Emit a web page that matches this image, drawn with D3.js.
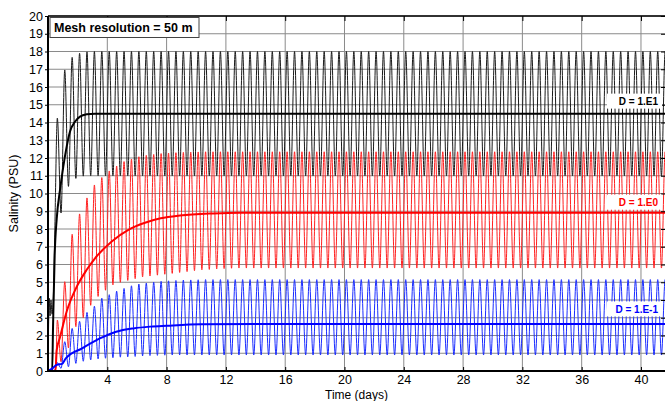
<!DOCTYPE html>
<html>
<head>
<meta charset="utf-8">
<script src="https://cdnjs.cloudflare.com/ajax/libs/d3/7.8.5/d3.min.js"></script>
<style>
body { margin: 0; background: #fff; }
svg { display: block; font-family: Arial, "Liberation Sans", sans-serif; }
</style>
</head>
<body>
<div class="chart"></div>
<script>

// tick labels
var xTicks = [4, 8, 12, 16, 20, 24, 28, 32, 36, 40];
var yTicks = [0, 1, 2, 3, 4, 5, 6, 7, 8, 9, 10, 11, 12, 13, 14, 15, 16, 17, 18, 19, 20];

// series labels
var seriesNames = ["D = 1.E1", "D = 1.E0", "D = 1.E-1"];

// tide: first high water and spacing (days)
var firstHigh = 0.63,
    tidePeriod = 0.5;

// start of each run before the first high water [day, PSU]
var blackStart = [[0, 0], [0.04, 2.6], [0.08, 4.1], [0.14, 3.1], [0.2, 4.0], [0.27, 3.2], [0.36, 4.2], [0.45, 7.5]];
var redStart = [[0, 0], [0.5, 0], [0.55, 0.8]];
var blueStart = [[0, 0], [0.45, 0.05]];

// high / low water salinity, one value per tide
var blackHigh = [14.24, 16.96, 17.67, 17.9, 17.98,
  18, 18, 18, 18, 18, 18, 18, 18, 18, 18,
  18, 18, 18, 18, 18, 18, 18, 18, 18, 18,
  18, 18, 18, 18, 18, 18, 18, 18, 18, 18,
  18, 18, 18, 18, 18, 18, 18, 18, 18, 18,
  18, 18, 18, 18, 18, 18, 18, 18, 18, 18,
  18, 18, 18, 18, 18, 18, 18, 18, 18, 18,
  18, 18, 18, 18, 18, 18, 18, 18, 18, 18,
  18, 18, 18, 18, 18, 18, 18, 18, 18, 18];
var blackLow = [8.9, 10.4, 10.85, 10.98,
  11, 11, 11, 11, 11, 11, 11, 11, 11, 11,
  11, 11, 11, 11, 11, 11, 11, 11, 11, 11,
  11, 11, 11, 11, 11, 11, 11, 11, 11, 11,
  11, 11, 11, 11, 11, 11, 11, 11, 11, 11,
  11, 11, 11, 11, 11, 11, 11, 11, 11, 11,
  11, 11, 11, 11, 11, 11, 11, 11, 11, 11,
  11, 11, 11, 11, 11, 11, 11, 11, 11, 11,
  11, 11, 11, 11, 11, 11, 11, 11, 11, 11];

var redHigh = [2.87, 5.03, 7.7, 8.85, 9.75, 10.48, 10.9, 11.27, 11.55, 11.8,
  11.94, 12.07, 12.15, 12.2, 12.25, 12.28, 12.3, 12.32, 12.33, 12.34,
  12.35, 12.35, 12.35, 12.35, 12.35, 12.35, 12.35, 12.35, 12.35, 12.35,
  12.35, 12.35, 12.35, 12.35, 12.35, 12.35, 12.35, 12.35, 12.35, 12.35,
  12.35, 12.35, 12.35, 12.35, 12.35, 12.35, 12.35, 12.35, 12.35, 12.35,
  12.35, 12.35, 12.35, 12.35, 12.35, 12.35, 12.35, 12.35, 12.35, 12.35,
  12.35, 12.35, 12.35, 12.35, 12.35, 12.35, 12.35, 12.35, 12.35, 12.35,
  12.35, 12.35, 12.35, 12.35, 12.35, 12.35, 12.35, 12.35, 12.35, 12.35,
  12.35, 12.35, 12.35, 12.35, 12.35];
var redLow = [0.52, 1.3, 2.5, 3.0, 3.7, 4.2, 4.55, 4.85, 5.0, 5.1,
  5.2, 5.3, 5.35, 5.4, 5.45, 5.5, 5.55, 5.6, 5.65, 5.7,
  5.72, 5.75, 5.77, 5.79, 5.8, 5.8, 5.8, 5.8, 5.8, 5.8,
  5.8, 5.8, 5.8, 5.8, 5.8, 5.8, 5.8, 5.8, 5.8, 5.8,
  5.8, 5.8, 5.8, 5.8, 5.8, 5.8, 5.8, 5.8, 5.8, 5.8,
  5.8, 5.8, 5.8, 5.8, 5.8, 5.8, 5.8, 5.8, 5.8, 5.8,
  5.8, 5.8, 5.8, 5.8, 5.8, 5.8, 5.8, 5.8, 5.8, 5.8,
  5.8, 5.8, 5.8, 5.8, 5.8, 5.8, 5.8, 5.8, 5.8, 5.8,
  5.8, 5.8, 5.8, 5.8, 5.8];

var blueHigh = [0.47, 1.65, 2.4, 2.8, 3.3, 3.65, 4.1, 4.3, 4.5, 4.65,
  4.8, 4.9, 4.95, 5.0, 5.05, 5.08, 5.1, 5.12, 5.13, 5.14,
  5.15, 5.15, 5.15, 5.15, 5.15, 5.15, 5.15, 5.15, 5.15, 5.15,
  5.15, 5.15, 5.15, 5.15, 5.15, 5.15, 5.15, 5.15, 5.15, 5.15,
  5.15, 5.15, 5.15, 5.15, 5.15, 5.15, 5.15, 5.15, 5.15, 5.15,
  5.15, 5.15, 5.15, 5.15, 5.15, 5.15, 5.15, 5.15, 5.15, 5.15,
  5.15, 5.15, 5.15, 5.15, 5.15, 5.15, 5.15, 5.15, 5.15, 5.15,
  5.15, 5.15, 5.15, 5.15, 5.15, 5.15, 5.15, 5.15, 5.15, 5.15,
  5.15, 5.15, 5.15, 5.15, 5.15];
var blueLow = [0.15, 0.24, 0.43, 0.55, 0.62, 0.68, 0.72, 0.75, 0.78, 0.8,
  0.82, 0.85, 0.87, 0.88, 0.89, 0.9, 0.9, 0.9, 0.9, 0.9,
  0.9, 0.9, 0.9, 0.9, 0.9, 0.9, 0.9, 0.9, 0.9, 0.9,
  0.9, 0.9, 0.9, 0.9, 0.9, 0.9, 0.9, 0.9, 0.9, 0.9,
  0.9, 0.9, 0.9, 0.9, 0.9, 0.9, 0.9, 0.9, 0.9, 0.9,
  0.9, 0.9, 0.9, 0.9, 0.9, 0.9, 0.9, 0.9, 0.9, 0.9,
  0.9, 0.9, 0.9, 0.9, 0.9, 0.9, 0.9, 0.9, 0.9, 0.9,
  0.9, 0.9, 0.9, 0.9, 0.9, 0.9, 0.9, 0.9, 0.9, 0.9,
  0.9, 0.9, 0.9, 0.9, 0.9];

// tidally averaged salinity [day, PSU]
var blackMean = [[0, 0], [0.28, 0], [0.34, 2.5], [0.45, 6.5], [0.59, 8.6], [0.81, 10.2], [1.03, 11.5],
  [1.26, 12.64], [1.48, 13.48], [1.82, 14.04], [2.16, 14.33], [2.61, 14.46], [3.17, 14.5], [41.62, 14.5]];
var redMean = [[0, 0], [0.5, 0], [0.59, 1.18], [0.81, 1.9], [1.26, 3.35], [1.94, 4.75], [2.61, 5.7],
  [3.17, 6.35], [4.3, 7.3], [5.42, 7.95], [6.54, 8.35], [7.6, 8.6], [8.9, 8.76], [11.15, 8.88],
  [12.95, 8.92], [41.62, 8.92]];
var blueMean = [[0, 0], [0.3, 0.15], [0.6, 0.35], [0.95, 0.4], [1.2, 0.71], [2.3, 1.28], [3.5, 1.84],
  [4.6, 2.21], [5.75, 2.4], [6.9, 2.5], [8.0, 2.55], [10.3, 2.63], [14, 2.65], [41.62, 2.65]];

var margin = {top: 16, right: 0, bottom: 30, left: 48},
    width = 665 - margin.left - margin.right,
    height = 401 - margin.top - margin.bottom;

var svg = d3.select(".chart").append("svg")
    .attr("width", 665)
    .attr("height", 401)
  .append("g")
    .attr("transform", "translate(" + margin.left + "," + margin.top + ")");

var x = d3.scaleLinear().domain([0, 41.62]).range([0, width]);
var y = d3.scaleLinear().domain([0, 20]).range([height, 0]);

// build the tidal series: start, then high / low water in turn
function tideSeries(start, highs, lows) {
  var pts = start.slice();
  highs.forEach(function(h, i) {
    pts.push([firstHigh + i * tidePeriod, h]);
    if (i < lows.length) pts.push([firstHigh + i * tidePeriod + tidePeriod / 2, lows[i]]);
  });
  return pts;
}

svg.append("clipPath")
    .attr("id", "clip")
  .append("rect")
    .attr("width", width)
    .attr("height", height);

// GRID
svg.append("g")
  .selectAll("line")
  .data(yTicks)
  .enter().append("line")
    .attr("x1", 0)
    .attr("x2", width)
    .attr("y1", function(d) { return y(d); })
    .attr("y2", function(d) { return y(d); })
    .attr("stroke", "#8a8a8a")
    .attr("stroke-width", 1);

svg.append("g")
  .selectAll("line")
  .data(xTicks)
  .enter().append("line")
    .attr("x1", function(d) { return x(d); })
    .attr("x2", function(d) { return x(d); })
    .attr("y1", 0)
    .attr("y2", height)
    .attr("stroke", "#8a8a8a")
    .attr("stroke-width", 1);

// LINES
var line = d3.line()
    .x(function(d) { return x(d[0]); })
    .y(function(d) { return y(d[1]); })
    .curve(d3.curveMonotoneX);

var plot = svg.append("g").attr("clip-path", "url(#clip)");

var tides = [
  {pts: tideSeries(blackStart, blackHigh, blackLow), color: "#1a1a1a"},
  {pts: tideSeries(redStart, redHigh, redLow), color: "#ff2020"},
  {pts: tideSeries(blueStart, blueHigh, blueLow), color: "#1a2cff"}
];

plot.selectAll(".tide")
  .data(tides)
  .enter().append("path")
    .attr("class", "tide")
    .attr("fill", "none")
    .attr("stroke", function(d) { return d.color; })
    .attr("stroke-width", 1)
    .attr("d", function(d) { return line(d.pts); });

var means = [
  {pts: blackMean, color: "#000"},
  {pts: redMean, color: "#ff0000"},
  {pts: blueMean, color: "#0000ff"}
];

plot.selectAll(".mean")
  .data(means)
  .enter().append("path")
    .attr("class", "mean")
    .attr("fill", "none")
    .attr("stroke", function(d) { return d.color; })
    .attr("stroke-width", 2)
    .attr("d", function(d) { return line(d.pts); });

// AXES
svg.append("g")
    .attr("transform", "translate(0," + height + ")")
    .call(d3.axisBottom(x).tickValues(xTicks).tickSize(-4).tickPadding(4).tickFormat(d3.format("d")));

svg.append("g")
    .call(d3.axisLeft(y).tickValues(yTicks).tickSize(3).tickPadding(2).tickFormat(d3.format("d")));

svg.append("g")
    .call(d3.axisTop(x).tickValues(xTicks).tickSize(-5).tickFormat(""));

svg.append("g")
    .attr("transform", "translate(" + width + ",0)")
    .call(d3.axisRight(y).tickValues(yTicks).tickSize(-4).tickFormat(""));

svg.selectAll(".domain").remove();
svg.selectAll(".tick line").attr("stroke", "#000");
svg.selectAll(".tick text")
    .attr("fill", "#000")
    .style("font-size", "12.5px");

// frame
svg.append("line").attr("x1", 0).attr("x2", 0).attr("y1", 0).attr("y2", height)
    .attr("stroke", "#000").attr("stroke-width", 2);
svg.append("line").attr("x1", -1).attr("x2", width).attr("y1", height).attr("y2", height)
    .attr("stroke", "#000").attr("stroke-width", 2);
svg.append("line").attr("x1", 0).attr("x2", width).attr("y1", 0).attr("y2", 0)
    .attr("stroke", "#000").attr("stroke-width", 1.5);

// axis titles
svg.append("text")
    .attr("transform", "translate(-30," + (height / 2) + ") rotate(-90)")
    .attr("text-anchor", "middle")
    .style("font-size", "12.5px")
    .text("Salinity (PSU)");

svg.append("text")
    .attr("x", width / 2)
    .attr("y", height + 27.5)
    .attr("text-anchor", "middle")
    .style("font-size", "12px")
    .text("Time (days)");

// title box
svg.append("rect")
    .attr("x", 2)
    .attr("y", 1.5)
    .attr("width", 149)
    .attr("height", 20)
    .attr("fill", "#fff")
    .attr("stroke", "#444")
    .attr("stroke-width", 1);

svg.append("text")
    .attr("x", 6)
    .attr("y", 16)
    .style("font-size", "12.5px")
    .style("font-weight", "bold")
    .text("Mesh resolution = 50 m");

// series labels
var labelColors = ["#000", "#ff0000", "#0000ff"];
var labelShift = [-12, -10, -14.5];
var labelY = [blackMean, redMean, blueMean].map(function(m) { return m[m.length - 1][1]; });

var lab = svg.selectAll(".lab")
  .data(seriesNames)
  .enter().append("g")
    .attr("class", "lab")
    .attr("transform", function(d, i) { return "translate(" + (width - 3) + "," + (y(labelY[i]) + labelShift[i]) + ")"; });

lab.append("rect")
    .attr("x", -55)
    .attr("y", -8)
    .attr("width", 55)
    .attr("height", 15)
    .attr("fill", "#fff");

lab.append("text")
    .attr("x", -4)
    .attr("y", 3.5)
    .attr("text-anchor", "end")
    .attr("fill", function(d, i) { return labelColors[i]; })
    .style("font-size", "10px")
    .style("font-weight", "bold")
    .text(function(d) { return d; });

</script>
</body>
</html>
